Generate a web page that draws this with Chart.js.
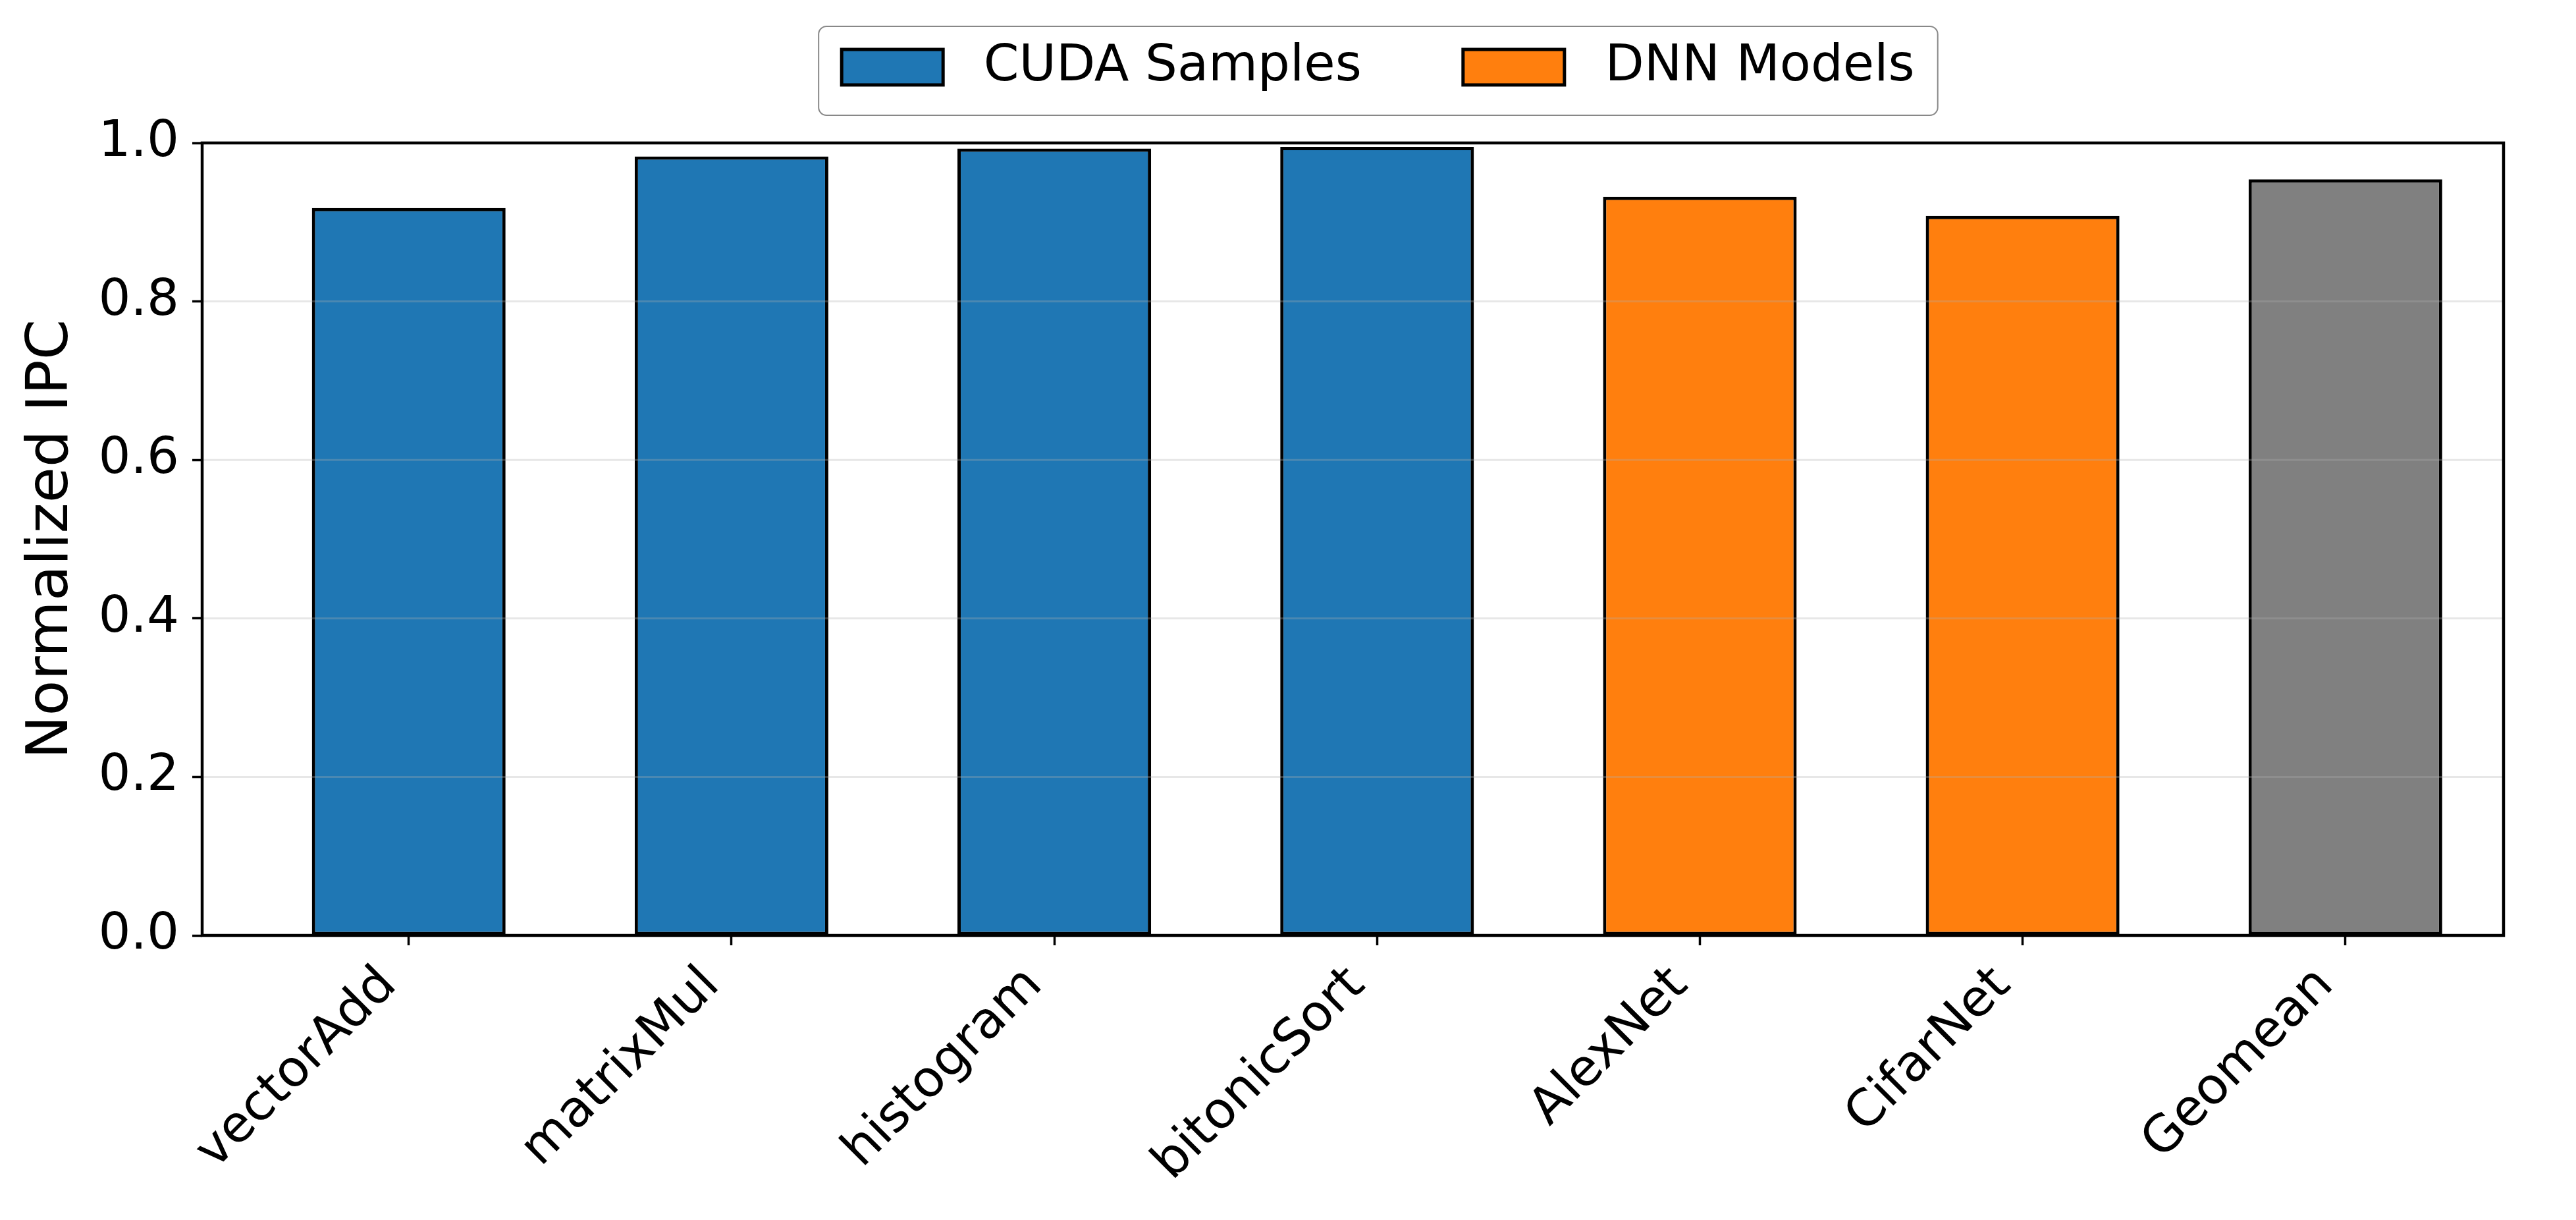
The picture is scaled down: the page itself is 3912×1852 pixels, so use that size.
<!DOCTYPE html>
<html lang="en">
<head>
	<meta charset="utf-8">
	<script src="https://cdn.jsdelivr.net/npm/chart.js@4.4.1/dist/chart.umd.min.js"></script>
	<title>Normalized IPC</title>
<style>
body { margin: 0; background: #fff; }
</style>
</head>
<body>
	<canvas id="myChart" width="3912" height="1852"></canvas>
<script>
const categories = ['vectorAdd', 'matrixMul', 'histogram', 'bitonicSort', 'AlexNet', 'CifarNet', 'Geomean'];
const ipcValues = [0.918, 0.983, 0.993, 0.995, 0.932, 0.908, 0.954];
const barGroups = ['cuda', 'cuda', 'cuda', 'cuda', 'dnn', 'dnn', 'mean'];
const groupColors = { cuda: '#1f77b4', dnn: '#ff7f0e', mean: '#808080' };
const legendNames = ['CUDA Samples', 'DNN Models'];
const legendGroups = ['cuda', 'dnn'];
const yTicks = [0, 0.2, 0.4, 0.6, 0.8, 1.0];

const FONT = '"DejaVu Sans", sans-serif';
Chart.defaults.color = '#000';
Chart.defaults.font.family = FONT;

// grid lines sit above the bars in the original, then the black frame
const frameAndGrid = {
  id: 'frameAndGrid',
  afterDatasetsDraw(chart) {
    const { ctx, chartArea: a, scales: { y } } = chart;
    ctx.save();
    ctx.strokeStyle = 'rgba(176,176,176,0.3)';
    ctx.lineWidth = 3;
    yTicks.slice(1, -1).forEach(v => {
      const py = y.getPixelForValue(v);
      ctx.beginPath();
      ctx.moveTo(a.left, py);
      ctx.lineTo(a.right, py);
      ctx.stroke();
    });
    ctx.strokeStyle = '#000';
    ctx.lineWidth = 4.5;
    ctx.strokeRect(a.left, a.top, a.right - a.left, a.bottom - a.top);
    ctx.restore();
  }
};

// matplotlib style legend box above the axes
const legendBox = {
  id: 'legendBox',
  afterDraw(chart) {
    const { ctx, chartArea: a } = chart;
    const fs = 77;
    const handleW = 2 * fs, handleH = 0.7 * fs, textPad = 0.8 * fs, colSpace = 2 * fs, sidePad = 35;
    ctx.save();
    ctx.font = fs + 'px ' + FONT;
    const widths = legendNames.map(t => ctx.measureText(t).width);
    let inner = 0;
    widths.forEach((w, i) => { inner += handleW + textPad + w + (i ? colSpace : 0); });
    const boxW = inner + 2 * sidePad, boxH = 135;
    const cx = a.left + (a.right - a.left) * 0.511;
    const left = cx - boxW / 2, top = a.top - 177;
    ctx.beginPath();
    ctx.roundRect(left, top, boxW, boxH, 12);
    ctx.fillStyle = 'rgba(255,255,255,0.8)';
    ctx.fill();
    ctx.strokeStyle = '#888';
    ctx.lineWidth = 2;
    ctx.stroke();
    const midY = top + 62;
    let x = left + sidePad;
    legendNames.forEach((name, i) => {
      ctx.fillStyle = groupColors[legendGroups[i]];
      ctx.fillRect(x, midY - handleH / 2, handleW, handleH);
      ctx.strokeStyle = '#000';
      ctx.lineWidth = 5;
      ctx.strokeRect(x, midY - handleH / 2, handleW, handleH);
      ctx.fillStyle = '#000';
      ctx.textBaseline = 'middle';
      ctx.textAlign = 'left';
      ctx.fillText(name, x + handleW + textPad, midY);
      x += handleW + textPad + widths[i] + colSpace;
    });
    ctx.restore();
  }
};

const ctx = document.getElementById('myChart');
new Chart(ctx, {
  type: 'bar',
  data: {
    datasets: [{
      data: ipcValues.map((v, i) => ({ x: i, y: v })),
      backgroundColor: barGroups.map(g => groupColors[g]),
      borderColor: '#000',
      borderWidth: 5,
      borderSkipped: false,
      barPercentage: 0.6,
      categoryPercentage: 1.0
    }]
  },
  options: {
    responsive: false,
    devicePixelRatio: 1,
    animation: false,
    layout: { padding: { left: 0, right: 110, top: 217, bottom: 0 } },
    plugins: { legend: { display: false }, tooltip: { enabled: false } },
    scales: {
      x: {
        type: 'linear',
        offset: false,
        min: -0.64,
        max: 6.49,
        afterBuildTicks: s => { s.ticks = categories.map((_, i) => ({ value: i })); },
        afterFit: s => { s.height = 432; },
        border: { display: false },
        grid: { offset: false, drawOnChartArea: false, drawTicks: true, tickLength: 15, tickColor: '#000', tickWidth: 3.5 },
        ticks: {
          autoSkip: false,
          minRotation: 45,
          maxRotation: 45,
          padding: 16,
          labelOffset: -30,
          font: { size: 77 },
          callback: v => categories[v]
        }
      },
      y: {
        min: 0,
        max: 1,
        afterBuildTicks: s => { s.ticks = yTicks.map(v => ({ value: v })); },
        afterFit: s => { s.width = 307; },
        border: { display: false },
        grid: { drawOnChartArea: false, drawTicks: true, tickLength: 15, tickColor: '#000', tickWidth: 3.5 },
        ticks: {
          padding: 20,
          font: { size: 77 },
          callback: v => v.toFixed(1)
        },
        title: {
          display: true,
          text: 'Normalized IPC',
          font: { size: 88 },
          padding: { top: 26, bottom: 0 }
        }
      }
    }
  },
  plugins: [frameAndGrid, legendBox]
});
</script>
</body>
</html>
